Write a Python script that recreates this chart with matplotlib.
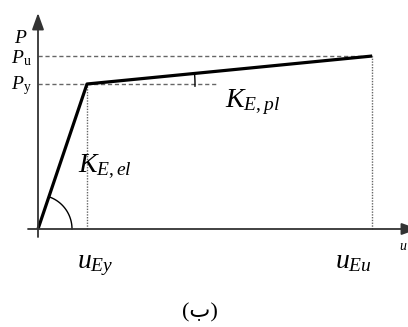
import matplotlib
matplotlib.use("Agg")
import matplotlib.pyplot as plt
import numpy as np

plt.rcParams['mathtext.fontset'] = 'custom'
plt.rcParams['mathtext.rm'] = 'Liberation Serif'
plt.rcParams['mathtext.it'] = 'Liberation Serif:italic'
plt.rcParams['font.family'] = ['Liberation Serif', 'DejaVu Sans']

# bilinear curve (normalised units)
u_pts = [0.0, 1.0, 6.82]      # 0, u_Ey, u_Eu
p_pts = [0.0, 1.0, 1.193]     # 0, P_y, P_u
u_y, u_u = u_pts[1], u_pts[2]
p_y, p_u = p_pts[1], p_pts[2]

# pixel scale: origin at (38, 229), 49 px per unit in u, 145 px per unit in P
sx, sy = 49.0, 145.0

fig = plt.figure(figsize=(4.08, 3.27), dpi=100)
ax = fig.add_axes([0, 0, 1, 1])
ax.set_xlim(-38 / sx, 370 / sx)
ax.set_ylim(-98 / sy, 229 / sy)
ax.axis('off')

# axes with arrows
arrow = dict(arrowstyle='-|>,head_width=0.36,head_length=1.0',
             color='#333333', lw=1.3, shrinkA=0, shrinkB=0)
ax.annotate('', xy=(0, 216 / sy), xytext=(0, -8 / sy), arrowprops=arrow,
            annotation_clip=False)
ax.annotate('', xy=(380 / sx, 0), xytext=(-10 / sx, 0), arrowprops=arrow,
            annotation_clip=False)

# reference lines
ax.plot([0, u_u], [p_u, p_u], color='#666666', lw=1.0, ls=(0, (3, 2)))
ax.plot([0, 3.65], [p_y, p_y], color='#666666', lw=1.0, ls=(0, (3, 2)))
ax.plot([u_y, u_y], [0, p_y], color='#666666', lw=1.0, ls=(0, (1, 1)))
ax.plot([u_u, u_u], [0, p_u], color='#666666', lw=1.0, ls=(0, (1, 1)))

# bilinear curve
ax.plot(u_pts, p_pts, color='black', lw=2.3, solid_capstyle='butt')

# angle arcs (circular in pixel space)
ang_el = np.arctan2(p_y * sy, u_y * sx)
t = np.linspace(0, ang_el, 60)
ax.plot(34 / sx * np.cos(t), 34 / sy * np.sin(t), color='black', lw=1.0)
ang_pl = np.arctan2((p_u - p_y) * sy, (u_u - u_y) * sx)
t = np.linspace(-0.02, ang_pl, 30)
ax.plot(u_y + 108 / sx * np.cos(t), p_y + 108 / sy * np.sin(t), color='black', lw=1.0)

# labels
ax.text(-0.36, (229 - 43) / sy, r'$P$', fontsize=14, ha='center', va='baseline')
ax.text(-0.33, (229 - 63) / sy, r'$P_{\mathrm{u}}$', fontsize=14, ha='center', va='baseline')
ax.text(-0.33, (229 - 89) / sy, r'$P_{\mathrm{y}}$', fontsize=14, ha='center', va='baseline')
ax.text(78 / sx - 38 / sx, (229 - 172) / sy, r'$K_{E,el}$', fontsize=20, ha='left', va='baseline')
ax.text(225 / sx - 38 / sx, (229 - 107) / sy, r'$K_{E,pl}$', fontsize=20, ha='left', va='baseline')
ax.text(77 / sx - 38 / sx, (229 - 268) / sy, r'$u_{Ey}$', fontsize=20, ha='left', va='baseline')
ax.text(335 / sx - 38 / sx, (229 - 268) / sy, r'$u_{Eu}$', fontsize=20, ha='left', va='baseline')
ax.text(399 / sx - 38 / sx, (229 - 250) / sy, r'$u$', fontsize=10, ha='left', va='baseline')
ax.text(200 / sx - 38 / sx, (229 - 313) / sy, '(ب)', fontsize=16, ha='center', va='center')

fig.savefig('out.png', dpi=100)
